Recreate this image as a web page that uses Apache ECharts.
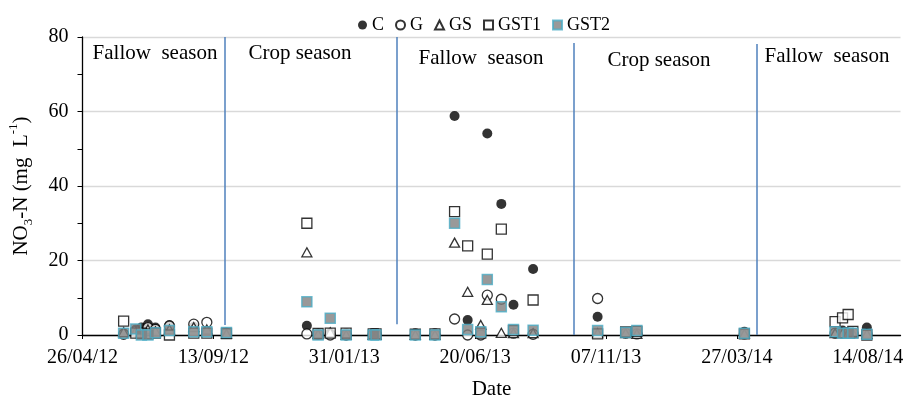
<!DOCTYPE html>
<html>
<head>
<meta charset="utf-8">
<script src="https://cdn.jsdelivr.net/npm/echarts@6/dist/echarts.min.js"></script>
<style>
html, body { margin: 0; padding: 0; background: #fff; }
#main { width: 914px; height: 401px; }
</style>
</head>
<body>
<div id="main"></div>
<script>
// axis starts on this day, ticks every 140 days
var startDate = '2012-04-26'
var endDate = '2014-09-18'

// sampling dates
var sampleDates = ['2012-06-09', '2012-06-22', '2012-06-28', '2012-07-05', '2012-07-13', '2012-07-28',
	'2012-08-23', '2012-09-06', '2012-09-27', '2012-12-22', '2013-01-03', '2013-01-16', '2013-02-02',
	'2013-03-03', '2013-03-06', '2013-04-17', '2013-05-08', '2013-05-29', '2013-06-12', '2013-06-26',
	'2013-07-03', '2013-07-18', '2013-07-31', '2013-08-21', '2013-10-29', '2013-11-28', '2013-12-10',
	'2014-04-04', '2014-07-10', '2014-07-18', '2014-07-24', '2014-07-29', '2014-08-13']

// NO3-N (mg/L) per treatment
var cValues = [0.4, 1.5, 2.0, 2.9, 2.0, 2.7, 2.2, 1.0, 0.5, 2.5, 0.3, 0.5, 0.5, 0.3, 0.2, 0.5, 0.5,
	58.8, 4.0, 0.3, 54.1, 35.2, 8.1, 17.7, 4.9, 0.5, 0.3, 0.9, 0.5, 1.2, 0.8, 0.5, 2.0]
var gValues = [0.2, 1.0, 0.5, 2.0, 1.5, 2.4, 2.9, 3.4, 0.5, 0.3, 0.2, 0, 0, 0.2, 0.2, 0, 0,
	4.3, 0, 0, 10.7, 9.6, 0.5, 0.2, 9.8, 0.5, 0.3, 0.3, 0.5, 0.5, 0.5, 0.5, 0.3]
var gsValues = [0.8, 1.0, 0.5, 1.5, 1.0, 1.5, 2.1, 1.5, 0.3, 22.2, 0.2, 0.7, 0, 0, 0, 0, 0,
	24.8, 11.6, 2.7, 9.4, 0.6, 0.5, 0.5, 0.5, 0.5, 0.3, 0.3, 0.5, 0.5, 0.5, 0.5, 0.3]
var gst1Values = [3.7, 0.5, 0.5, 0.3, 0.5, 0, 0.5, 0.5, 0.4, 30.0, 0.4, 0.5, 0.5, 0.3, 0.3, 0.2, 0.3,
	33.1, 23.9, 0.5, 21.7, 28.4, 1.2, 9.4, 0.3, 0.8, 1.0, 0.3, 3.6, 4.6, 5.5, 1.0, 0]
var gst2Values = [0.5, 1.6, 0, 0, 0.6, 1.2, 0.9, 0.9, 0.7, 8.9, 0, 4.5, 0, 0, 0, 0, 0,
	30.0, 1.5, 0.9, 14.9, 7.6, 1.5, 1.3, 1.2, 0.7, 1.2, 0.5, 0.9, 0.5, 0.5, 0.5, 0.2]

// season boundaries (drawn lines)
var seasonDates = ['2012-09-25', '2013-03-28', '2013-10-03', '2014-04-17']
var seasonTop = [80, 80, 78.4, 78.1]
var seasonBottom = [2.7, 2.9, 0, 0]
var seasonNames = ['Fallow  season', 'Crop season', 'Fallow  season', 'Crop season', 'Fallow  season']

var DAY = 86400000
var serif = '"Liberation Serif", "Times New Roman", serif'

function dayNo(s) {
	return Math.round((Date.parse(s) - Date.parse(startDate)) / DAY)
}
function fmtDay(v) {
	var d = new Date(Date.parse(startDate) + v * DAY)
	var dd = ('0' + d.getUTCDate()).slice(-2)
	var mm = ('0' + (d.getUTCMonth() + 1)).slice(-2)
	var yy = ('' + d.getUTCFullYear()).slice(-2)
	return dd + '/' + mm + '/' + yy
}
function pairs(vals) {
	var res = []
	for (var i = 0; i < sampleDates.length; i++) {
		if (vals[i] != null) res.push([dayNo(sampleDates[i]), vals[i]])
	}
	return res
}

var seasonLines = seasonDates.map(function (d, i) {
	return [{ coord: [dayNo(d), seasonTop[i]] }, { coord: [dayNo(d), seasonBottom[i]] }]
})

// label positions for the season texts (px)
var seasonPos = [[155, 53], [300, 53], [481, 58], [659, 60], [827, 56]]

var myChart = echarts.init(document.getElementById('main'))

function sc(name, vals, style) {
	return {
		name: name,
		type: 'scatter',
		data: pairs(vals),
		symbol: style.symbol,
		symbolSize: style.size,
		clip: false,
		itemStyle: style.item
	}
}

option = {
	animation: false,
	textStyle: { fontFamily: serif, color: '#000' },
	legend: {
		data: ['C', 'G', 'GS', 'GST1', 'GST2'],
		left: 353,
		top: 11,
		itemWidth: 9,
		itemHeight: 9,
		itemGap: 11,
		textStyle: { fontFamily: serif, fontSize: 18, color: '#000' }
	},
	grid: { left: 82.5, right: 13.5, top: 37, bottom: 66, containLabel: false, outerBoundsMode: 'none' },
	xAxis: {
		type: 'value',
		min: 0,
		max: dayNo(endDate),
		interval: 140,
		name: 'Date',
		nameLocation: 'middle',
		nameGap: 44,
		nameTextStyle: { fontFamily: serif, fontSize: 21, color: '#000' },
		axisLine: { lineStyle: { color: '#000', width: 1.3 } },
		axisTick: { length: 4, lineStyle: { color: '#000' } },
		axisLabel: {
			margin: 13,
			fontFamily: serif,
			fontSize: 20,
			color: '#000',
			showMaxLabel: false,
			formatter: function (v) { return v % 140 === 0 ? fmtDay(v) : '' }
		},
		splitLine: { show: false }
	},
	yAxis: {
		type: 'value',
		min: 0,
		max: 80,
		interval: 20,
		name: '{a|NO}{s|3}{a|-N (mg  L}{p|-1}{a|)}',
		nameLocation: 'middle',
		nameRotate: 90,
		nameGap: 47,
		nameTextStyle: {
			rich: {
				a: { fontFamily: serif, fontSize: 21, lineHeight: 28, color: '#000' },
				s: { fontFamily: serif, fontSize: 13, lineHeight: 13, verticalAlign: 'bottom', color: '#000' },
				p: { fontFamily: serif, fontSize: 13, lineHeight: 13, verticalAlign: 'top', color: '#000' }
			}
		},
		axisLine: { show: true, lineStyle: { color: '#000', width: 1.3 } },
		axisTick: { show: true, length: 5, lineStyle: { color: '#000' } },
		minorTick: { show: true, splitNumber: 2, length: 5, lineStyle: { color: '#000' } },
		axisLabel: { margin: 14, fontFamily: serif, fontSize: 20, color: '#000' },
		splitLine: { lineStyle: { color: '#d9d9d9', width: 1.3 } }
	},
	graphic: seasonNames.map(function (t, i) {
		return {
			type: 'text',
			x: seasonPos[i][0],
			y: seasonPos[i][1],
			style: { text: t, fontFamily: serif, fontSize: 21, fill: '#000', align: 'center', verticalAlign: 'middle' }
		}
	}),
	series: [
		{
			name: 'seasons',
			type: 'line',
			data: [],
			markLine: {
				silent: true,
				symbol: ['none', 'none'],
				label: { show: false },
				lineStyle: { color: '#4F81BD', width: 1.5, type: 'solid' },
				data: seasonLines
			}
		},
		sc('C', cValues, { symbol: 'circle', size: 10, item: { color: '#000' } }),
		sc('G', gValues, { symbol: 'circle', size: 10, item: { color: '#fff', borderColor: '#000', borderWidth: 1.3 } }),
		sc('GS', gsValues, { symbol: 'triangle', size: [10, 9], item: { color: '#fff', borderColor: '#000', borderWidth: 1.3 } }),
		sc('GST1', gst1Values, { symbol: 'rect', size: 10, item: { color: '#fff', borderColor: '#000', borderWidth: 1.3 } }),
		sc('GST2', gst2Values, { symbol: 'rect', size: 10, item: { color: '#808080', borderColor: '#4BACC6', borderWidth: 1.5 } })
	]
};
myChart.setOption(option)
</script>
</body>
</html>
